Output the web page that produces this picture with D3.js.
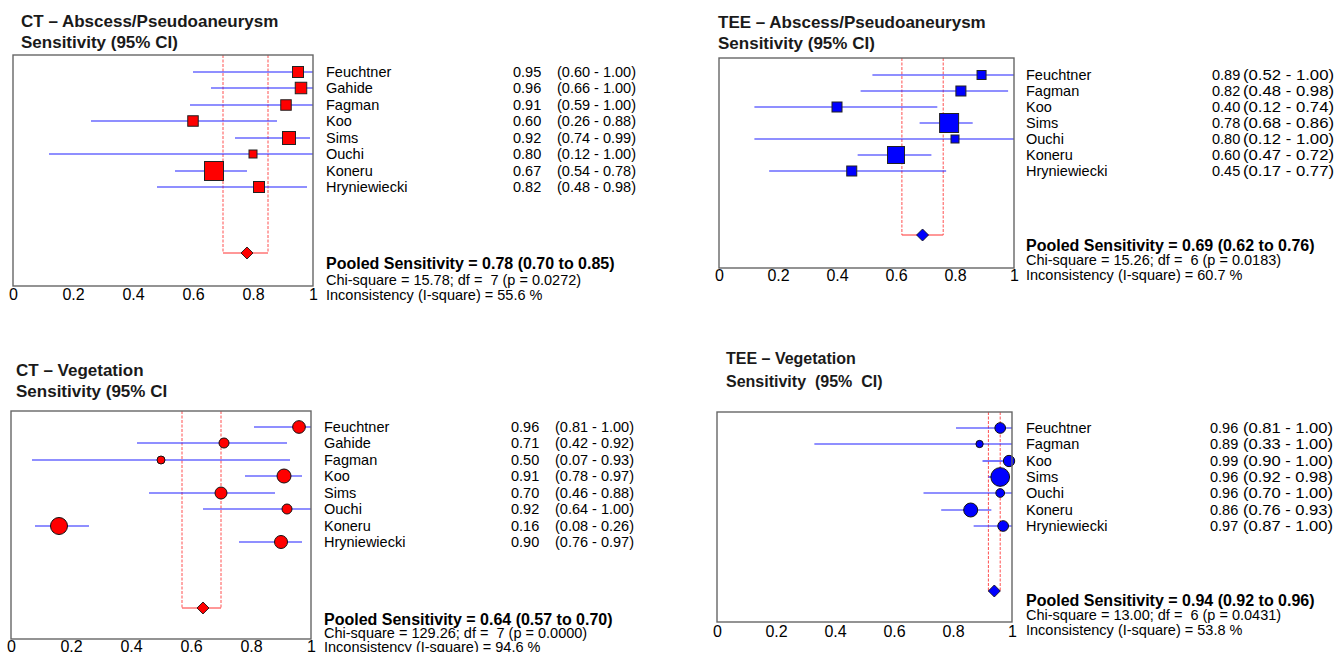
<!DOCTYPE html>
<html><head><meta charset="utf-8">
<script src="https://cdn.jsdelivr.net/npm/d3@7"></script>
<style>
html,body{margin:0;padding:0;background:#fff;}
svg{display:block;font-family:"Liberation Sans",Arial,sans-serif;}
text{white-space:pre;fill:#000;}
</style></head><body>
<svg id="chart" width="1336" height="652"></svg>
<script>
// ---------- data ----------
const tickValues = [0, 0.2, 0.4, 0.6, 0.8, 1];
const tickLabels = ["0", "0.2", "0.4", "0.6", "0.8", "1"];

// CT – Abscess/Pseudoaneurysm
const studiesCTAbs = ["Feuchtner","Gahide","Fagman","Koo","Sims","Ouchi","Koneru","Hryniewiecki"];
const sensCTAbs    = [0.95, 0.96, 0.91, 0.60, 0.92, 0.80, 0.67, 0.82];
const loCTAbs      = [0.60, 0.66, 0.59, 0.26, 0.74, 0.12, 0.54, 0.48];
const hiCTAbs      = [1.00, 1.00, 1.00, 0.88, 0.99, 1.00, 0.78, 0.98];
const weightCTAbs  = [12.1, 13.2, 11.0, 11.0, 16.9, 6.4, 36.1, 12.1];
const pooledCTAbs  = [0.78, 0.70, 0.85];
const chiCTAbs     = ["15.78", "7", "0.0272"];
const i2CTAbs      = "55.6";

// TEE – Abscess/Pseudoaneurysm
const studiesTEEAbs = ["Feuchtner","Fagman","Koo","Sims","Ouchi","Koneru","Hryniewiecki"];
const sensTEEAbs    = [0.89, 0.82, 0.40, 0.78, 0.80, 0.60, 0.45];
const loTEEAbs      = [0.52, 0.48, 0.12, 0.68, 0.12, 0.47, 0.17];
const hiTEEAbs      = [1.00, 0.98, 0.74, 0.86, 1.00, 0.72, 0.77];
const weightTEEAbs  = [8.1, 10.0, 10.0, 36.1, 6.4, 28.9, 10.0];
const pooledTEEAbs  = [0.69, 0.62, 0.76];
const chiTEEAbs     = ["15.26", "6", "0.0183"];
const i2TEEAbs      = "60.7";

// CT – Vegetation
const studiesCTVeg = ["Feuchtner","Gahide","Fagman","Koo","Sims","Ouchi","Koneru","Hryniewiecki"];
const sensCTVeg    = [0.96, 0.71, 0.50, 0.91, 0.70, 0.92, 0.16, 0.90];
const loCTVeg      = [0.81, 0.42, 0.07, 0.78, 0.46, 0.64, 0.08, 0.76];
const hiCTVeg      = [1.00, 0.92, 0.93, 0.97, 0.88, 1.00, 0.26, 0.97];
const weightCTVeg  = [16.1, 10.0, 6.4, 19.6, 14.4, 10.0, 28.9, 16.9];
const pooledCTVeg  = [0.64, 0.57, 0.70];
const chiCTVeg     = ["129.26", "7", "0.0000"];
const i2CTVeg      = "94.6";

// TEE – Vegetation
const studiesTEEVeg = ["Feuchtner","Fagman","Koo","Sims","Ouchi","Koneru","Hryniewiecki"];
const sensTEEVeg    = [0.96, 0.89, 0.99, 0.96, 0.96, 0.86, 0.97];
const loTEEVeg      = [0.81, 0.33, 0.90, 0.92, 0.70, 0.76, 0.87];
const hiTEEVeg      = [1.00, 1.00, 1.00, 0.98, 1.00, 0.93, 1.00];
const weightTEEVeg  = [11.4, 5.3, 12.8, 35.0, 7.6, 19.6, 11.4];
const pooledTEEVeg  = [0.94, 0.92, 0.96];
const chiTEEVeg     = ["13.00", "6", "0.0431"];
const i2TEEVeg      = "53.8";

// ---------- panels (data + layout) ----------
const panels = [
  { title: ["CT – Abscess/Pseudoaneurysm", "Sensitivity (95% CI)"],
    studies: studiesCTAbs, sens: sensCTAbs, lo: loCTAbs, hi: hiCTAbs, w: weightCTAbs,
    pooled: pooledCTAbs, chi: chiCTAbs, i2: i2CTAbs, marker: "square", color: "#ff0000",
    L: { x0: 13, x1: 313, top: 55, bottom: 286, row0: 72, diamondY: 253,
         tx: 21, ty: [27, 48], tsize: 17, nameX: 326, valX: 513, ciX: 557, ciLen: null,
         statY: [269, 285, 300], tickBase: 300 } },
  { title: ["TEE – Abscess/Pseudoaneurysm", "Sensitivity (95% CI)"],
    studies: studiesTEEAbs, sens: sensTEEAbs, lo: loTEEAbs, hi: hiTEEAbs, w: weightTEEAbs,
    pooled: pooledTEEAbs, chi: chiTEEAbs, i2: i2TEEAbs, marker: "square", color: "#0000ff",
    L: { x0: 719, x1: 1014, top: 58, bottom: 268, row0: 75, diamondY: 235,
         tx: 718, ty: [27.5, 48.5], tsize: 17, nameX: 1026, valX: 1212, ciX: 1243, ciLen: 91,
         statY: [251, 265, 280], tickBase: 281 } },
  { title: ["CT – Vegetation", "Sensitivity (95% CI"],
    studies: studiesCTVeg, sens: sensCTVeg, lo: loCTVeg, hi: hiCTVeg, w: weightCTVeg,
    pooled: pooledCTVeg, chi: chiCTVeg, i2: i2CTVeg, marker: "circle", color: "#ff0000",
    L: { x0: 11, x1: 311, top: 411, bottom: 639, row0: 427, diamondY: 608,
         tx: 16, ty: [376, 397], tsize: 17, nameX: 324, valX: 511, ciX: 555, ciLen: null,
         statY: [624.5, 638, 652], tickBase: 652 } },
  { title: ["TEE – Vegetation", "Sensitivity  (95%  CI)"],
    studies: studiesTEEVeg, sens: sensTEEVeg, lo: loTEEVeg, hi: hiTEEVeg, w: weightTEEVeg,
    pooled: pooledTEEVeg, chi: chiTEEVeg, i2: i2TEEVeg, marker: "circle", color: "#0000ff",
    L: { x0: 717, x1: 1012, top: 412, bottom: 622, row0: 428, diamondY: 591,
         tx: 726, ty: [364, 387], tsize: 16, nameX: 1026, valX: 1210, ciX: 1243, ciLen: 90,
         statY: [605.5, 620, 635], tickBase: 637 } }
];

const svg = d3.select("#chart");
const f2 = d3.format(".2f");
const sizeScale = d3.scaleSqrt().domain([0, 36.1]).range([0, 19]);

panels.forEach(p => {
  const L = p.L;
  const n = p.studies.length;
  const g = svg.append("g");
  const x = d3.scaleLinear().domain([0, 1]).range([L.x0, L.x1]);
  const y = d3.scaleLinear().domain([0, n + 3]).rangeRound([L.row0, L.diamondY]);
  const rows = d3.range(n);

  // titles
  g.selectAll("text.title").data(p.title).join("text")
    .attr("class", "title")
    .attr("x", L.tx).attr("y", (d, i) => L.ty[i])
    .attr("font-size", L.tsize).attr("font-weight", "bold")
    .style("fill", "#1a1a1a")
    .text(d => d);

  // pooled CI (red)
  g.selectAll("line.pv").data([p.pooled[1], p.pooled[2]]).join("line")
    .attr("class", "pv")
    .attr("x1", d => x(d)).attr("x2", d => x(d))
    .attr("y1", L.top).attr("y2", L.diamondY)
    .attr("stroke", "#ff5050").attr("stroke-width", 1)
    .attr("stroke-dasharray", "3,1.5");
  g.append("line")
    .attr("x1", x(p.pooled[1])).attr("x2", x(p.pooled[2]))
    .attr("y1", L.diamondY).attr("y2", L.diamondY)
    .attr("stroke", "#ff3030").attr("stroke-width", 1);

  // CI lines
  g.selectAll("line.ci").data(rows).join("line")
    .attr("class", "ci")
    .attr("x1", i => x(p.lo[i])).attr("x2", i => x(p.hi[i]))
    .attr("y1", i => y(i)).attr("y2", i => y(i))
    .style("stroke", "#2020ff").style("stroke-width", "1.2px");

  // markers
  if (p.marker === "square") {
    g.selectAll("rect.mk").data(rows).join("rect")
      .attr("class", "mk")
      .attr("x", i => x(p.sens[i]) - sizeScale(p.w[i]) / 2)
      .attr("y", i => y(i) - sizeScale(p.w[i]) / 2)
      .attr("width", i => sizeScale(p.w[i]))
      .attr("height", i => sizeScale(p.w[i]))
      .attr("fill", p.color).attr("stroke", "#222").attr("stroke-width", 1);
  } else {
    g.selectAll("circle.mk").data(rows).join("circle")
      .attr("class", "mk")
      .attr("cx", i => x(p.sens[i])).attr("cy", i => y(i))
      .attr("r", i => sizeScale(p.w[i]) / 2)
      .attr("fill", p.color).attr("stroke", "#111").attr("stroke-width", 1);
  }

  // pooled diamond
  g.append("path")
    .attr("d", d3.symbol(d3.symbolSquare, 72)())
    .attr("transform", `translate(${x(p.pooled[0])},${L.diamondY}) rotate(45)`)
    .attr("fill", p.color).attr("stroke", "#111").attr("stroke-width", 0.8);

  // box
  g.append("rect")
    .attr("x", L.x0).attr("y", L.top)
    .attr("width", L.x1 - L.x0).attr("height", L.bottom - L.top)
    .attr("fill", "none").attr("stroke", "#666").attr("stroke-width", 1.4);

  // x axis labels
  const axis = d3.axisBottom(x).tickValues(tickValues)
    .tickFormat((d, i) => tickLabels[i]).tickSize(0).tickPadding(0);
  const ag = g.append("g").attr("transform", `translate(0,${L.tickBase})`).call(axis);
  ag.select(".domain").remove();
  ag.selectAll(".tick line").remove();
  ag.selectAll("text").attr("dy", 0).attr("font-size", 16)
    .attr("font-family", '"Liberation Sans",Arial,sans-serif').style("fill", "#000");

  // study table
  g.selectAll("text.name").data(rows).join("text")
    .attr("class", "name")
    .attr("x", L.nameX).attr("y", i => y(i)).attr("dy", "0.36em")
    .attr("font-size", 14.5).text(i => p.studies[i]);
  g.selectAll("text.val").data(rows).join("text")
    .attr("class", "val")
    .attr("x", L.valX).attr("y", i => y(i)).attr("dy", "0.36em")
    .attr("font-size", 14.5).text(i => f2(p.sens[i]));
  const civ = g.selectAll("text.civ").data(rows).join("text")
    .attr("class", "civ")
    .attr("x", L.ciX).attr("y", i => y(i)).attr("dy", "0.36em")
    .attr("font-size", 14.5).text(i => `(${f2(p.lo[i])} - ${f2(p.hi[i])})`);
  if (L.ciLen) civ.attr("textLength", L.ciLen).attr("lengthAdjust", "spacingAndGlyphs");

  // pooled statistics
  g.append("text").attr("x", L.nameX).attr("y", L.statY[0])
    .attr("font-size", 16).attr("font-weight", "bold")
    .text(`Pooled Sensitivity = ${f2(p.pooled[0])} (${f2(p.pooled[1])} to ${f2(p.pooled[2])})`);
  g.append("text").attr("x", L.nameX).attr("y", L.statY[1])
    .attr("font-size", 14.5)
    .text(`Chi-square = ${p.chi[0]}; df =  ${p.chi[1]} (p = ${p.chi[2]})`);
  g.append("text").attr("x", L.nameX).attr("y", L.statY[2])
    .attr("font-size", 14.5)
    .text(`Inconsistency (I-square) = ${p.i2} %`);
});
</script>
</body></html>
